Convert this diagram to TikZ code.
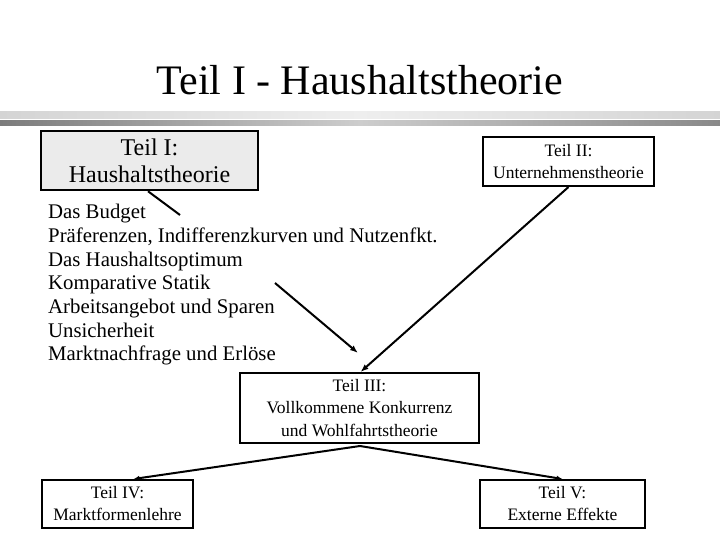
\documentclass[tikz,border=0pt]{standalone}
\usepackage{fontspec}
\setmainfont{Liberation Serif}
\usetikzlibrary{arrows.meta}
\definecolor{boxgray}{HTML}{EBEBEB}
\definecolor{bandA}{HTML}{D4D4D4}
\definecolor{bandB}{HTML}{EEEEEE}
\definecolor{bandC}{HTML}{7C7C7C}
\definecolor{bandD}{HTML}{CDCDCD}
\begin{document}
\begin{tikzpicture}[x=1pt,y=-1pt,
  box/.style={draw=black,line width=2pt,fill=white,inner sep=0pt,align=center,
    font=\fontsize{17.5}{22}\selectfont},
  bigbox/.style={box,line width=2.5pt,fill=boxgray,font=\fontsize{24}{27}\selectfont},
  conn/.style={line width=2pt},
  arr/.style={conn,-{Latex[length=8pt,width=6pt]}},
  sarr/.style={conn,-{Latex[length=6pt,width=5pt]}}
]
\useasboundingbox (0,0) rectangle (720,540);
\fill[white] (0,0) rectangle (720,540);
% header bands
\shade[left color=bandA,right color=bandA,middle color=bandB] (0,112) rectangle (720,119);
\shade[left color=bandC,right color=bandC!90!white,middle color=bandD] (0,121) rectangle (720,126);
% title
\node (title) at (360,80) {\fontsize{42}{46}\selectfont Teil I - Haushaltstheorie};
% boxes
\node[bigbox,minimum width=217pt,minimum height=59pt] (b1) at (149.5,160.5) {Teil I:\\Haushaltstheorie};
\node[box,minimum width=171pt,minimum height=49pt] (b2) at (568.5,161.5) {Teil II:\\Unternehmenstheorie};
\node[box,minimum width=239pt,minimum height=70pt,font=\fontsize{17.5}{22.5}\selectfont] (b3) at (359.5,408) {Teil III:\\Vollkommene Konkurrenz\\und Wohlfahrtstheorie};
\node[box,minimum width=151pt,minimum height=48pt] (b4) at (117.5,504) {Teil IV:\\Marktformenlehre};
\node[box,minimum width=165pt,minimum height=48pt] (b5) at (562.5,504) {Teil V:\\Externe Effekte};
% list
\node[anchor=north west,inner sep=0pt,align=left,font=\fontsize{20.8}{23.7}\selectfont] (list) at (48,204)
  {Das Budget\\Präferenzen, Indifferenzkurven und Nutzenfkt.\\Das Haushaltsoptimum\\Komparative Statik\\Arbeitsangebot und Sparen\\Unsicherheit\\Marktnachfrage und Erlöse};
% connectors
\coordinate (c1) at (180,215);
\coordinate (a1) at (275,283);
\coordinate (a2) at (358,353);
\draw[conn] (b1.south -| 148,0) -- (c1);
\draw[arr] (a1) -- (a2);
\draw[arr] (b2.south) -- ([xshift=1pt]b3.north);
\coordinate (b3s) at (360,446);
\draw[sarr] (b3s) -- ([xshift=16pt]b4.north);
\draw[sarr] (b3s) -- (b5.north);
\end{tikzpicture}
\end{document}
